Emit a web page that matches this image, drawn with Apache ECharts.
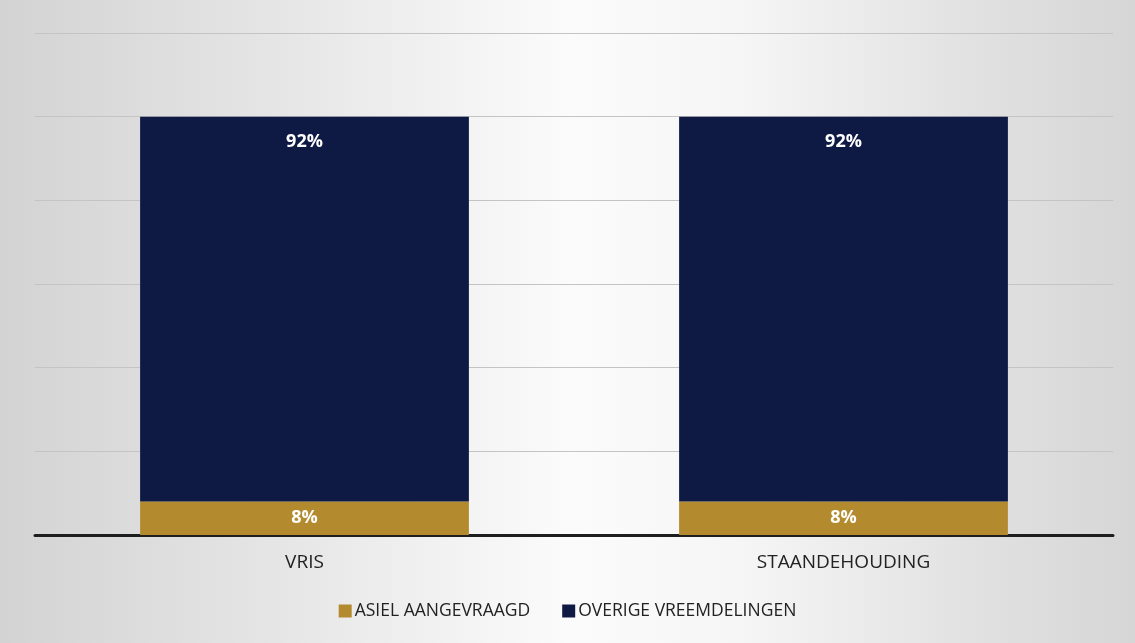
<!DOCTYPE html>
<html><head><meta charset="utf-8">
<script src="https://cdn.jsdelivr.net/npm/echarts@6/dist/echarts.min.js"></script>
<style>html,body{margin:0;padding:0;}#c{width:1135px;height:643px;}</style>
</head><body><div id="c"></div>
<script>
const categories = ['VRIS', 'STAANDEHOUDING'];
const asielValues = [8, 8];
const overigeValues = [92, 92];
const seriesNames = ['ASIEL AANGEVRAAGD', 'OVERIGE VREEMDELINGEN'];

const chart = echarts.init(document.getElementById('c'));
const font = 'Open Sans, Lato, sans-serif';
chart.setOption({
  backgroundColor: new echarts.graphic.LinearGradient(0, 0, 1, 0, [
    {offset: 0, color: '#d3d3d3'},
    {offset: 0.25, color: '#e6e6e6'},
    {offset: 0.5, color: '#fbfbfb'},
    {offset: 0.65, color: '#f6f6f6'},
    {offset: 0.85, color: '#e2e2e2'},
    {offset: 1, color: '#d6d6d6'}
  ]),
  animation: false,
  grid: {left: 35, right: 22, top: 33, bottom: 108},
  legend: {
    bottom: 18, left: 'center', itemWidth: 13, itemHeight: 13, itemGap: 32,
    icon: 'rect',
    textStyle: {fontFamily: font, fontSize: 17.5, color: '#222', padding: [0, 0, 0, -2]},
    data: seriesNames
  },
  xAxis: {
    type: 'category', data: categories,
    axisLine: {lineStyle: {color: '#1e1e1e', width: 3}},
    axisTick: {show: false},
    axisLabel: {fontFamily: font, fontSize: 19, color: '#222', margin: 18}
  },
  yAxis: {
    type: 'value', min: 0, max: 120, interval: 20,
    axisLabel: {show: false}, axisLine: {show: false}, axisTick: {show: false},
    splitLine: {lineStyle: {color: '#c4c4c4', width: 1}}
  },
  series: [
    {
      name: seriesNames[0], type: 'bar', stack: 'a', data: asielValues,
      barCategoryGap: '39%',
      itemStyle: {color: '#b38b2e'},
      label: {show: true, position: 'inside', formatter: '{c}%', color: '#fff', fontFamily: font, fontSize: 18, fontWeight: 'bold'}
    },
    {
      name: seriesNames[1], type: 'bar', stack: 'a', data: overigeValues,
      barCategoryGap: '39%',
      itemStyle: {color: '#0e1a44'},
      label: {show: true, position: 'insideTop', distance: 16, formatter: '{c}%', color: '#fff', fontFamily: font, fontSize: 18, fontWeight: 'bold'}
    }
  ]
});
</script></body></html>
